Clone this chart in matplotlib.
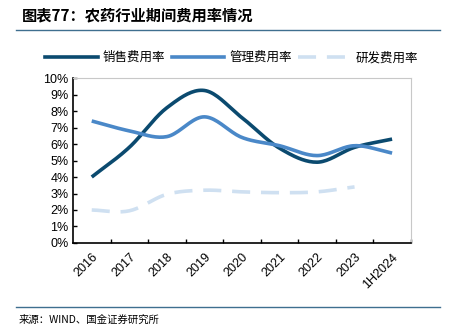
import numpy as np
import matplotlib
matplotlib.use('Agg')
import matplotlib.pyplot as plt
from matplotlib.lines import Line2D

plt.rcParams['font.family'] = ['Noto Sans CJK SC', 'DejaVu Sans']

years = ['2016', '2017', '2018', '2019', '2020', '2021', '2022', '2023', '1H2024']
sales = [4.0, 5.8, 8.2, 9.25, 7.6, 5.75, 4.9, 5.8, 6.3]
admin = [7.4, 6.8, 6.45, 7.65, 6.4, 5.9, 5.3, 5.9, 5.45]
rnd = [2.0, 1.95, 2.95, 3.2, 3.1, 3.05, 3.1, 3.4]


def smooth(y, n=20):
    # catmull-rom through the read values, only for drawing
    y = np.asarray(y, dtype=float)
    p = np.concatenate([[2 * y[0] - y[1]], y, [2 * y[-1] - y[-2]]])
    xs, ys = [], []
    for i in range(len(y) - 1):
        p0, p1, p2, p3 = p[i], p[i + 1], p[i + 2], p[i + 3]
        t = np.linspace(0, 1, n, endpoint=False)
        v = 0.5 * (2 * p1 + (-p0 + p2) * t + (2 * p0 - 5 * p1 + 4 * p2 - p3) * t ** 2
                   + (-p0 + 3 * p1 - 3 * p2 + p3) * t ** 3)
        xs.append(i + t)
        ys.append(v)
    xs.append([len(y) - 1])
    ys.append([y[-1]])
    return np.concatenate(xs), np.concatenate(ys)


c_sales = '#0b4a6f'
c_admin = '#4a88c8'
c_rnd = '#cfe0f1'

fig = plt.figure(figsize=(4.56, 3.31), dpi=100)
ax = fig.add_axes([0.160, 0.266, 0.741, 0.498])

x, y = smooth(sales)
ax.plot(x, y / 100, color=c_sales, lw=2.6, solid_capstyle='butt')
x, y = smooth(admin)
ax.plot(x, y / 100, color=c_admin, lw=2.6, solid_capstyle='butt')
x, y = smooth(rnd)
ax.plot(x, y / 100, color=c_rnd, lw=2.6, dashes=(5, 3))

ax.set_xlim(-0.5, len(years) - 0.5)
ax.set_ylim(0, 0.10)
ax.set_yticks(np.arange(0, 0.101, 0.01))
ax.set_yticklabels([f'{i}%' for i in range(11)], fontsize=9, family='Liberation Sans')
ax.set_xticks(range(len(years)))
ax.set_xticklabels(years, rotation=45, ha='right', rotation_mode='anchor', fontsize=9,
                   family='Liberation Sans')
ax.tick_params(axis='x', length=0, pad=6)
ax.set_xticks(np.arange(0.5, len(years) - 0.4, 1), minor=True)
ax.tick_params(axis='x', which='minor', direction='in', length=3, width=1)
ax.tick_params(axis='y', direction='in', length=3, width=1, pad=3)

for s in ['left', 'bottom']:
    ax.spines[s].set_color('black')
    ax.spines[s].set_linewidth(1.2)
for s in ['top', 'right']:
    ax.spines[s].set_color('#c8c8c8')
    ax.spines[s].set_linewidth(0.8)

handles = [Line2D([], [], color=c_sales, lw=2.6),
           Line2D([], [], color=c_admin, lw=2.6),
           Line2D([], [], color=c_rnd, lw=2.6, dashes=(5, 3))]
fig.legend(handles, ['销售费用率', '管理费用率', '研发费用率'], loc='center',
           bbox_to_anchor=(0.508, 0.826), ncol=3, frameon=False, fontsize=9,
           handlelength=4.2, columnspacing=0.5, handletextpad=0.4)

fig.text(0.048, 0.952, '图表77：农药行业期间费用率情况', fontsize=11, fontweight='bold',
         fontstyle='italic', va='center', ha='left')
fig.add_artist(Line2D([0.035, 0.965], [0.91, 0.91], color='#3f6f8f', lw=1))
fig.add_artist(Line2D([0.035, 0.965], [0.073, 0.073], color='#3f6f8f', lw=1))
fig.text(0.04, 0.035, '来源：WIND、国金证券研究所', fontsize=7.5, va='center', ha='left')

fig.savefig('out.png', dpi=100)
